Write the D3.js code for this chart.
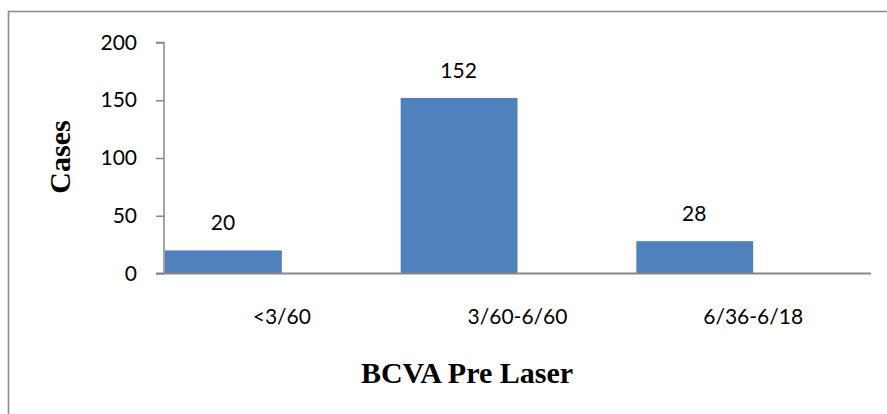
<!DOCTYPE html>
<html>
<head>
<meta charset="utf-8">
<script src="https://cdn.jsdelivr.net/npm/d3@7"></script>
<style>
  html, body { margin: 0; padding: 0; background: #fff; }
  svg { display: block; }
</style>
</head>
<body>
<svg id="chart" width="887" height="414"></svg>
<script>
// Cases by best-corrected visual acuity before laser treatment
const categories = ["<3/60", "3/60-6/60", "6/36-6/18"];
const cases = [20, 152, 28];
const yTicks = [0, 50, 100, 150, 200];

const svg = d3.select("#chart");
const W = 887, H = 414;
const plot = { left: 164, right: 871, top: 42.5, bottom: 273.5 };

const tickFont = "Lato, 'Open Sans', sans-serif";
const titleFont = "'Liberation Serif', 'DejaVu Serif', serif";

// outer frame (runs past the right and bottom edges)
svg.append("rect")
  .attr("x", 8.5).attr("y", 11.5)
  .attr("width", W + 20).attr("height", H + 20)
  .attr("fill", "none")
  .attr("stroke", "#8c8c8c")
  .attr("stroke-width", 1.6);

const x = d3.scaleBand()
  .domain(categories)
  .range([plot.left, plot.right])
  .padding(0);

const y = d3.scaleLinear()
  .domain([0, 200])
  .range([plot.bottom, plot.top]);

// bars occupy the left half of each category slot
const barW = x.bandwidth() / 2;
svg.append("g").selectAll("rect")
  .data(categories)
  .join("rect")
  .attr("x", d => x(d) + 1)
  .attr("width", barW - 1)
  .attr("y", (d, i) => y(cases[i]))
  .attr("height", (d, i) => y(0) - y(cases[i]))
  .attr("fill", "#4f81bd");

// y axis
const yAxis = d3.axisLeft(y)
  .tickValues(yTicks)
  .tickSize(8)
  .tickPadding(19)
  .tickFormat(d3.format("d"));
const gy = svg.append("g")
  .attr("transform", `translate(${plot.left},0)`)
  .call(yAxis);
gy.select(".domain").attr("stroke", "#868686").attr("stroke-width", 1.5)
  .attr("d", `M-8,${plot.top}H0V${plot.bottom}`);
gy.selectAll(".tick line").attr("stroke", "#868686").attr("stroke-width", 1.5);
gy.selectAll(".tick text")
  .attr("font-family", tickFont)
  .attr("font-size", 21)
  .attr("fill", "#000");

// x axis baseline and category labels
const xAxis = d3.axisBottom(x).tickSize(0).tickPadding(36);
const gx = svg.append("g")
  .attr("transform", `translate(0,${plot.bottom})`)
  .call(xAxis);
gx.select(".domain").attr("stroke", "#868686").attr("stroke-width", 1.8)
  .attr("d", `M${plot.left - 8},0H${plot.right}`);
gx.selectAll(".tick text")
  .attr("font-family", tickFont)
  .attr("font-size", 21)
  .attr("fill", "#000");

// value labels above the bars
svg.append("g").selectAll("text")
  .data(categories)
  .join("text")
  .attr("x", d => x(d) + barW / 2)
  .attr("y", (d, i) => y(cases[i]) - 20)
  .attr("text-anchor", "middle")
  .attr("font-family", tickFont)
  .attr("font-size", 21)
  .attr("fill", "#000")
  .text((d, i) => cases[i]);

// axis titles
svg.append("text")
  .attr("x", 467)
  .attr("y", 383)
  .attr("text-anchor", "middle")
  .attr("font-family", titleFont)
  .attr("font-weight", "bold")
  .attr("font-size", 30)
  .attr("fill", "#000")
  .text("BCVA Pre Laser");

svg.append("text")
  .attr("transform", "translate(70,157) rotate(-90)")
  .attr("text-anchor", "middle")
  .attr("font-family", titleFont)
  .attr("font-weight", "bold")
  .attr("font-size", 30)
  .attr("fill", "#000")
  .text("Cases");
</script>
</body>
</html>
